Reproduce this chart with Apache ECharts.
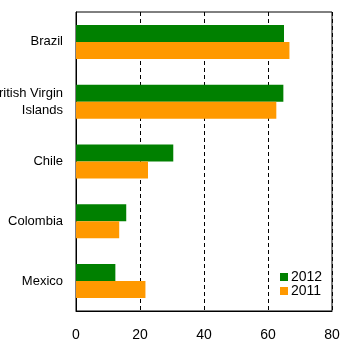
<!DOCTYPE html>
<html><head><meta charset="utf-8">
<script src="https://cdn.jsdelivr.net/npm/echarts@6/dist/echarts.min.js"></script>
<style>html,body{margin:0;padding:0;background:#fff}#c{width:352px;height:344px}</style>
</head><body><div id="c"></div>
<script>
const categories = ["Brazil", "British Virgin\nIslands", "Chile", "Colombia", "Mexico"];
const values2012 = [65.0, 64.8, 30.4, 15.7, 12.3];
const values2011 = [66.7, 62.6, 22.5, 13.5, 21.7];
const xTicks = [0, 20, 40, 60, 80];
const seriesNames = ["2012", "2011"];

const FONT = '"Liberation Sans Narrow", "Arial Narrow", "Liberation Sans", Arial, sans-serif';
const chart = echarts.init(document.getElementById('c'), null, {renderer: 'canvas'});
chart.setOption({
  animation: false,
  backgroundColor: '#fff',
  textStyle: {fontFamily: FONT},
  grid: {left: 76, right: 20, top: 12, bottom: 33, show: true, borderColor: '#000', borderWidth: 1,
         containLabel: false, outerBoundsMode: 'none'},
  legend: {
    data: seriesNames, orient: 'vertical', left: 280, top: 270, padding: 0,
    itemWidth: 8, itemHeight: 8, itemGap: 0, icon: 'rect',
    textStyle: {fontFamily: FONT, fontSize: 14, color: '#000', lineHeight: 14, padding: [0,0,0,-2]}
  },
  xAxis: {
    type: 'value', min: xTicks[0], max: xTicks[xTicks.length-1], interval: 20,
    axisLine: {show: true, lineStyle: {color: '#000', width: 1}},
    axisTick: {show: false},
    axisLabel: {fontFamily: FONT, fontSize: 14, color: '#000', margin: 17},
    splitLine: {show: true, lineStyle: {color: '#000', type: [4, 3], width: 1}}
  },
  yAxis: {
    type: 'category', data: categories, inverse: true,
    axisLine: {show: true, lineStyle: {color: '#000', width: 1}},
    axisTick: {show: false},
    axisLabel: {fontFamily: FONT, fontSize: 13, color: '#000', margin: 13, lineHeight: 17, align: 'right'}
  },
  series: [
    {name: seriesNames[0], type: 'bar', data: values2012, barWidth: 17, barGap: '0%', itemStyle: {color: '#008000'}},
    {name: seriesNames[1], type: 'bar', data: values2011, barWidth: 17, barGap: '0%', itemStyle: {color: '#FF9900'}}
  ]
});
</script></body></html>
